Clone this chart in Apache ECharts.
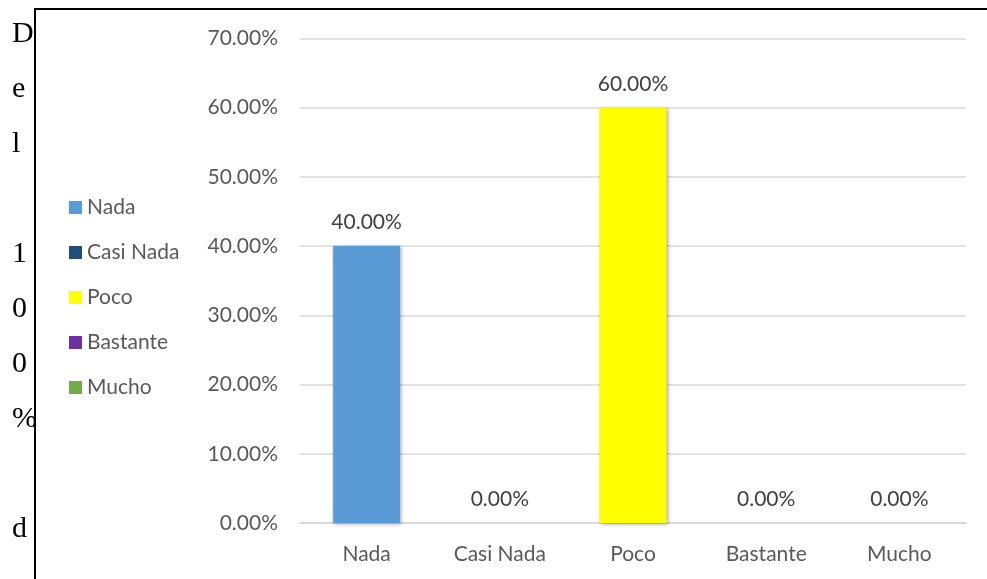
<!DOCTYPE html>
<html>
<head>
<meta charset="utf-8">
<style>
  html, body { margin: 0; padding: 0; background: #ffffff; }
  #chart { width: 987px; height: 579px; }
</style>
<script src="https://cdn.jsdelivr.net/npm/echarts@6/dist/echarts.min.js"></script>
</head>
<body>
<div id="chart"></div>
<script>
// Response categories and their share of answers (percent)
const categories = ['Nada', 'Casi Nada', 'Poco', 'Bastante', 'Mucho'];
const values = [40, 0, 60, 0, 0];
// Value axis ticks (percent)
const yTicks = [0, 10, 20, 30, 40, 50, 60, 70];
// Running text set down the left margin, one character per line
const sideText = 'Del 100% d';

const palette = ['#5B9BD5', '#1F4E79', '#FFFF00', '#7030A0', '#70AD47'];
const uiFont = 'Lato';
const uiSize = 21;
const textGray = '#595959';

const chart = echarts.init(document.getElementById('chart'), null, { renderer: 'canvas' });

// One series per category so the legend lists each one with its own colour;
// all share one stack so every bar sits centred on its category.
const series = categories.map((name, i) => ({
  name: name,
  type: 'bar',
  stack: 'all',
  barWidth: 67,
  data: categories.map((_, j) => (j === i ? values[i] : '-')),
  itemStyle: {
    color: palette[i],
    shadowBlur: 4,
    shadowColor: 'rgba(0,0,0,0.35)',
    shadowOffsetX: 1,
    shadowOffsetY: 1
  },
  label: {
    show: true,
    position: 'top',
    distance: 13,
    fontFamily: uiFont,
    fontSize: uiSize,
    color: '#404040',
    formatter: p => Number(p.value).toFixed(2) + '%'
  }
}));

// Vertical margin text
const lineStep = 55;
const sideGraphics = sideText.split('').map((ch, k) => ({
  type: 'text',
  left: 12,
  top: 31 + k * lineStep - 12,
  style: {
    text: ch,
    font: '30px "Liberation Serif"',
    fill: '#000000'
  },
  z: 10
}));

const option = {
  animation: false,
  backgroundColor: '#ffffff',
  grid: { left: 300, right: 21, top: 38.25, bottom: 56, containLabel: false },
  legend: {
    orient: 'vertical',
    left: 64,
    top: 192,
    itemWidth: 13,
    itemHeight: 13,
    itemGap: 24,
    icon: 'rect',
    textStyle: { fontFamily: uiFont, fontSize: uiSize, color: textGray },
    data: categories
  },
  xAxis: {
    type: 'category',
    data: categories,
    axisLine: { show: true, lineStyle: { color: '#d9d9d9', width: 2 } },
    axisTick: { show: false },
    axisLabel: { fontFamily: uiFont, fontSize: uiSize, color: textGray, margin: 21 }
  },
  yAxis: {
    type: 'value',
    min: yTicks[0],
    max: yTicks[yTicks.length - 1],
    interval: yTicks[1] - yTicks[0],
    axisLine: { show: false },
    axisTick: { show: false },
    splitLine: { lineStyle: { color: '#d9d9d9', width: 1.5 } },
    axisLabel: {
      fontFamily: uiFont,
      fontSize: uiSize,
      color: textGray,
      margin: 22,
      formatter: v => v.toFixed(2) + '%'
    }
  },
  series: series,
  graphic: [
    // frame lines along the top and left edges
    { type: 'line', shape: { x1: 34, y1: 9, x2: 987, y2: 9 }, style: { stroke: '#000', lineWidth: 2 }, z: 10 },
    { type: 'line', shape: { x1: 35, y1: 8, x2: 35, y2: 579 }, style: { stroke: '#000', lineWidth: 2 }, z: 10 }
  ].concat(sideGraphics)
};

chart.setOption(option);
</script>
</body>
</html>
